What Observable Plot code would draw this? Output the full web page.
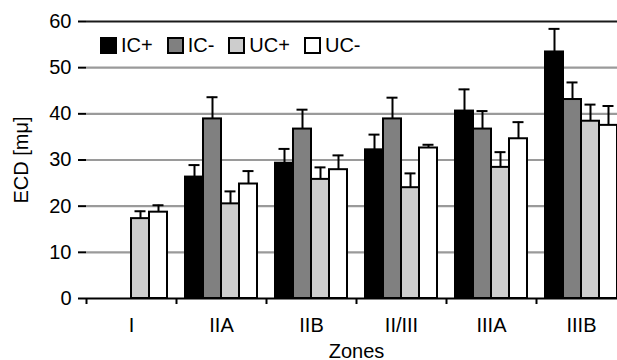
<!DOCTYPE html>
<html>
<head>
<meta charset="utf-8">
<script src="https://cdn.jsdelivr.net/npm/d3@7"></script>
<script src="https://cdn.jsdelivr.net/npm/@observablehq/plot@0.6"></script>
<style>
  html, body { margin: 0; padding: 0; overflow: hidden; background: #fff; }
  #wrap { position: relative; width: 617px; height: 360px; overflow: hidden; }
  #legend { position: absolute; left: 100px; top: 36px; display: flex; gap: 14px;
            font-family: "Liberation Sans", Arial, sans-serif; font-size: 20px; color: #000; }
  #legend .item { display: flex; align-items: center; gap: 4px; line-height: 18px; }
  #legend .sw { width: 13px; height: 13px; border: 2px solid #000; }
</style>
</head>
<body>
<div id="wrap"><div id="legend"></div></div>
<script>
// ---- data ----
const zones = ["I", "IIA", "IIB", "II/III", "IIIA", "IIIB"];
const series = ["IC+", "IC-", "UC+", "UC-"];
const colors = ["#000000", "#808080", "#cdcdcd", "#ffffff"];
const yTicks = [0, 10, 20, 30, 40, 50, 60];

// means per zone (null = no bar)
const icPlus   = [null, 26.3, 29.3, 32.2, 40.6, 53.4];
const icMinus  = [null, 38.9, 36.7, 38.9, 36.7, 43.1];
const ucPlus   = [17.3, 20.5, 25.8, 24.0, 28.4, 38.4];
const ucMinus  = [18.7, 24.8, 27.9, 32.6, 34.6, 37.5];
// upper error (SD) per zone
const icPlusErr  = [null, 2.6, 3.1, 3.3, 4.7, 5.0];
const icMinusErr = [null, 4.7, 4.2, 4.6, 3.9, 3.7];
const ucPlusErr  = [1.6, 2.7, 2.6, 3.1, 3.3, 3.6];
const ucMinusErr = [1.5, 2.8, 3.1, 0.7, 3.6, 4.2];

const means = [icPlus, icMinus, ucPlus, ucMinus];
const errs = [icPlusErr, icMinusErr, ucPlusErr, ucMinusErr];

const rows = zones.flatMap((z, i) => series.map((s, j) => ({
  zone: z, series: s, value: means[j][i], err: errs[j][i],
  top: means[j][i] == null ? null : means[j][i] + errs[j][i]
}))).filter(d => d.value != null);

const font = '"Liberation Sans", Arial, sans-serif';

const chart = Plot.plot({
  width: 626,
  height: 360,
  marginLeft: 86,
  marginRight: 0,
  marginTop: 21,
  marginBottom: 62,
  style: { fontFamily: font, fontSize: "20px", color: "#000", background: "#fff", maxWidth: "none" },
  fx: { domain: zones, paddingInner: 0, paddingOuter: 0, label: null, axis: null },
  x: { domain: series, paddingInner: 0, paddingOuter: 0.37, axis: null },
  y: { domain: [0, 60], axis: null },
  color: { domain: series, range: colors },
  marks: [
    Plot.gridY(yTicks.filter(t => t > 0 && t < 60), { stroke: "#9a9a9a", strokeOpacity: 1, strokeWidth: 2.2 }),
    Plot.ruleY([60], { stroke: "#1a1a1a", strokeWidth: 2 }),
    Plot.ruleX(rows, { fx: "zone", x: "series", y1: "value", y2: "top", stroke: "#000", strokeWidth: 2 }),
    Plot.tickY(rows, { fx: "zone", x: "series", y: "top", stroke: "#000", strokeWidth: 2, inset: 3.5 }),
    Plot.barY(rows, { fx: "zone", x: "series", y: "value", fill: "series", stroke: "#000", strokeWidth: 2 }),
    Plot.ruleY([0], { stroke: "#000", strokeWidth: 2 }),
    Plot.axisY(yTicks, { anchor: "left", tickSize: 8, tickPadding: 7, strokeWidth: 2,
      label: "ECD [mμ]", labelAnchor: "center", labelArrow: "none", labelOffset: 73, line: true, fontSize: 20 }),
    Plot.axisFx({ anchor: "bottom", tickSize: 0, tickPadding: 19, label: "Zones",
      labelAnchor: "center", labelArrow: "none", labelOffset: 59, fontSize: 20 }),
    Plot.axisFx({ anchor: "bottom", tickSize: 6, strokeWidth: 2, fill: "none", label: null, dx: -45 })
  ]
});

const wrap = document.getElementById("wrap");
wrap.insertBefore(chart, wrap.firstChild);

const legend = document.getElementById("legend");
series.forEach((s, j) => {
  const item = document.createElement("div");
  item.className = "item";
  const sw = document.createElement("div");
  sw.className = "sw";
  sw.style.background = colors[j];
  const label = document.createElement("span");
  label.textContent = s;
  item.appendChild(sw);
  item.appendChild(label);
  legend.appendChild(item);
});
</script>
</body>
</html>
